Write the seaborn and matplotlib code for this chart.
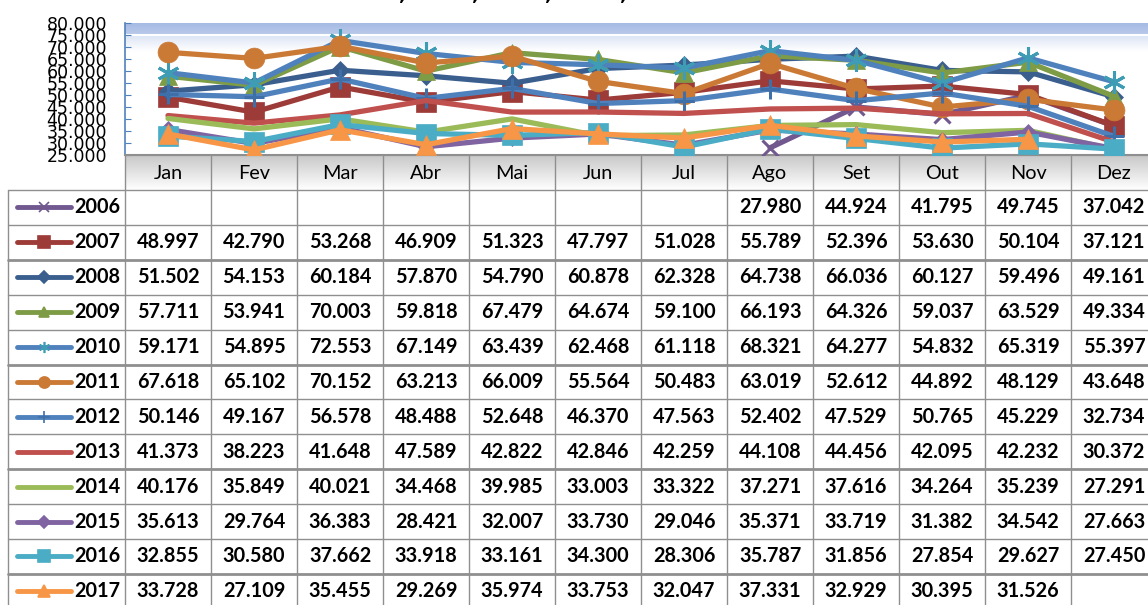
import numpy as np
import pandas as pd
import matplotlib
matplotlib.use("Agg")
import matplotlib.pyplot as plt
import seaborn as sns
from matplotlib.colors import to_rgb
from matplotlib.lines import Line2D

sns.set_style("white")
plt.rcParams['font.family'] = ['DejaVu Sans']

months = ["Jan", "Fev", "Mar", "Abr", "Mai", "Jun", "Jul", "Ago", "Set", "Out", "Nov", "Dez"]
years = ["2006", "2007", "2008", "2009", "2010", "2011", "2012", "2013", "2014", "2015", "2016", "2017"]
N = np.nan
v2006 = [N, N, N, N, N, N, N, 27.980, 44.924, 41.795, 49.745, 37.042]
v2007 = [48.997, 42.790, 53.268, 46.909, 51.323, 47.797, 51.028, 55.789, 52.396, 53.630, 50.104, 37.121]
v2008 = [51.502, 54.153, 60.184, 57.870, 54.790, 60.878, 62.328, 64.738, 66.036, 60.127, 59.496, 49.161]
v2009 = [57.711, 53.941, 70.003, 59.818, 67.479, 64.674, 59.100, 66.193, 64.326, 59.037, 63.529, 49.334]
v2010 = [59.171, 54.895, 72.553, 67.149, 63.439, 62.468, 61.118, 68.321, 64.277, 54.832, 65.319, 55.397]
v2011 = [67.618, 65.102, 70.152, 63.213, 66.009, 55.564, 50.483, 63.019, 52.612, 44.892, 48.129, 43.648]
v2012 = [50.146, 49.167, 56.578, 48.488, 52.648, 46.370, 47.563, 52.402, 47.529, 50.765, 45.229, 32.734]
v2013 = [41.373, 38.223, 41.648, 47.589, 42.822, 42.846, 42.259, 44.108, 44.456, 42.095, 42.232, 30.372]
v2014 = [40.176, 35.849, 40.021, 34.468, 39.985, 33.003, 33.322, 37.271, 37.616, 34.264, 35.239, 27.291]
v2015 = [35.613, 29.764, 36.383, 28.421, 32.007, 33.730, 29.046, 35.371, 33.719, 31.382, 34.542, 27.663]
v2016 = [32.855, 30.580, 37.662, 33.918, 33.161, 34.300, 28.306, 35.787, 31.856, 27.854, 29.627, 27.450]
v2017 = [33.728, 27.109, 35.455, 29.269, 35.974, 33.753, 32.047, 37.331, 32.929, 30.395, 31.526, N]
series = [v2006, v2007, v2008, v2009, v2010, v2011, v2012, v2013, v2014, v2015, v2016, v2017]
ytick_vals = [25, 30, 35, 40, 45, 50, 55, 60, 65, 70, 75, 80]

# style per series: line colour, marker, marker colour, marker size, legend marker size
styles = [
    ("#71588F", "x", "#71588F", 12, 7),
    ("#9D3B38", "s", "#9D3B38", 14, 8),
    ("#3A5F8F", "D", "#3A5F8F", 9, 6),
    ("#7E9B45", "^", "#7E9B45", 13, 7),
    ("#4F81BD", (6, 2, 0), "#3E9DB5", 16, 8),
    ("#CB7A35", "o", "#CB7A35", 15, 8),
    ("#4F81BD", "+", "#3E6FA8", 15, 8),
    ("#C0504D", None, None, 0, 0),
    ("#9BBB59", None, None, 0, 0),
    ("#8064A2", "D", "#8064A2", 8, 6),
    ("#4BACC6", "s", "#4BACC6", 14, 8),
    ("#F79646", "^", "#F79646", 15, 8),
]

W, H = 1148, 605
fig = plt.figure(figsize=(W / 100, H / 100), dpi=100)

# ---------- table overlay axes (pixel coordinates) ----------
tax = fig.add_axes([0, 0, 1, 1], zorder=0)

x0 = 125
cw = 86
ptop, pbot = 22.5, 155
hdr_bot = 190
rh = 34.9

# header gradient
grad = np.linspace(0, 1, 60)[:, None]
top_c = np.array(to_rgb("#c8c8c8"))
bot_c = np.array([1, 1, 1])
img = top_c[None, None, :] * (1 - grad[..., None]) + bot_c[None, None, :] * grad[..., None]
img = np.clip(img * np.ones((60, 2, 3)), 0, 1)
tax.imshow(img, extent=[x0, x0 + 12 * cw, hdr_bot, pbot], aspect="auto", zorder=0, interpolation="bilinear")
tax.set_xlim(0, W)
tax.set_ylim(H, 0)
tax.axis("off")

gcol = "#8f8f8f"
tax.plot([x0, x0 + 12 * cw], [pbot, pbot], color=gcol, lw=1.5, zorder=2)
for i in range(13):
    yy = hdr_bot + i * rh
    lw = 2.0 if i in (2, 5, 8, 11) else 1.0
    tax.plot([8, x0 + 12 * cw], [yy, yy], color=gcol, lw=lw, zorder=2)
tax.plot([8, 8], [hdr_bot, H], color=gcol, lw=1.0, zorder=2)
for j in range(13):
    xx = x0 + j * cw
    tax.plot([xx, xx], [pbot, H], color=gcol, lw=1.0, zorder=2)

tfont = dict(family="Lato", fontsize=14.3, color="black")
for j, m in enumerate(months):
    tax.text(x0 + j * cw + cw / 2, (pbot + hdr_bot) / 2 + 1, m, ha="center", va="center", **tfont)

for i, (yr, vals, st) in enumerate(zip(years, series, styles)):
    yc = hdr_bot + i * rh + rh / 2
    col, mk, mfc, ms, lms = st
    tax.add_line(Line2D([17, 71], [yc, yc], color=col, lw=3.5, solid_capstyle="round", zorder=3))
    if mk is not None:
        tax.add_line(Line2D([44], [yc], marker=mk, markersize=lms, color=mfc,
                            markerfacecolor=mfc, markeredgecolor=mfc, markeredgewidth=1.2, zorder=4))
    tax.text(74, yc, yr, ha="left", va="center", fontweight="bold", **tfont)
    for j, v in enumerate(vals):
        if not np.isnan(v):
            tax.text(x0 + j * cw + cw / 2, yc, f"{v:.3f}", ha="center", va="center",
                     fontweight="bold", **tfont)

# cut-off title remnants (only the comma tails remain visible)
for xc in [402, 475, 548, 623]:
    tax.text(xc, -5, ",", ha="center", va="center", fontsize=13, fontweight="bold", color="black")

# ---------- chart axes ----------
ax = fig.add_axes([x0 / W, (H - pbot) / H, 12 * cw / W, (pbot - ptop) / H], zorder=1)

ny = 400
yv = np.linspace(80, 25, ny)
rows = np.zeros((ny, 3))
c_top = np.array(to_rgb("#a4b9e3"))
c_band = np.array(to_rgb("#b9c9ea"))
c_fade = np.array(to_rgb("#d9e2f4"))
for k, yy in enumerate(yv):
    if yy >= 75:
        t = (80 - yy) / 5
        rows[k] = c_top * (1 - t) + c_band * t
    elif yy >= 68:
        t = (75 - yy) / 7
        rows[k] = c_fade * (1 - t) + np.ones(3) * t
    else:
        rows[k] = 1
bg = np.repeat(rows[:, None, :], 2, axis=1)
ax.imshow(bg, extent=[-0.5, 11.5, 25, 80], aspect="auto", zorder=0, interpolation="bilinear")
ax.axhline(75, color="white", lw=1.5, zorder=0.5)

for yr, vals, st in zip(years, series, styles):
    col, mk, mfc, ms, lms = st
    df = pd.DataFrame({"m": np.arange(12), "v": vals}).dropna()
    kw = dict(color=col, linewidth=3.8, ax=ax, zorder=3)
    if mk is not None:
        kw.update(marker=mk, markersize=ms, markerfacecolor=mfc, markeredgecolor=mfc,
                  markeredgewidth=2.2 if mk in ("x", "+", (6, 2, 0)) else 0.5)
    sns.lineplot(data=df, x="m", y="v", errorbar=None, sort=True, legend=False, **kw)

ax.set_xlim(-0.5, 11.5)
ax.set_ylim(25, 80)
ax.set_xlabel("")
ax.set_ylabel("")
ax.set_xticks([])
ax.set_yticks(ytick_vals)
ax.set_yticklabels([f"{v:.3f}" for v in ytick_vals], fontsize=12.5, color="black")
ax.tick_params(axis="y", direction="in", length=4, color="#4F81BD", pad=13, left=True)
for s in ["top", "right"]:
    ax.spines[s].set_visible(False)
ax.spines["left"].set_color("#4F81BD")
ax.spines["left"].set_linewidth(1.2)
ax.spines["bottom"].set_color(gcol)
ax.spines["bottom"].set_linewidth(1.5)

fig.savefig("out.png", dpi=100)
